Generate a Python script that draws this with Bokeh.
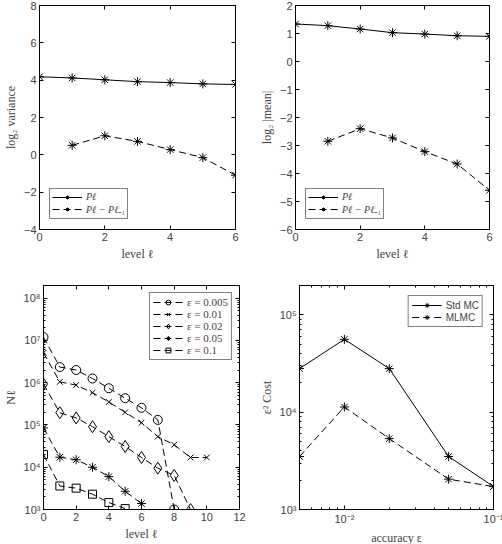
from bokeh.plotting import figure
from bokeh.layouts import column, row
from bokeh.models import (Legend, LegendItem, FixedTicker, LinearAxis, LogAxis,
                          Range1d, CustomJSTickFormatter)
from bokeh.embed import file_html
from bokeh.resources import INLINE

# ---------------- data ----------------
levels = [0, 1, 2, 3, 4, 5, 6]
levels_d = [1, 2, 3, 4, 5, 6]
var_P = [4.18, 4.12, 4.02, 3.92, 3.87, 3.80, 3.77]
var_dP = [0.51, 1.02, 0.72, 0.28, -0.15, -1.09]
mean_P = [1.34, 1.28, 1.16, 1.03, 0.98, 0.92, 0.90]
mean_dP = [-2.85, -2.40, -2.73, -3.22, -3.66, -4.60]

eps_labels = ["ε = 0.005", "ε = 0.01", "ε = 0.02", "ε = 0.05", "ε = 0.1"]
N_eps005 = [1.2e7, 2.35e6, 2.0e6, 1.26e6, 7.4e5, 4.3e5, 2.55e5, 1.32e5, 1.0e3]
N_eps01 = [5.1e6, 1.05e6, 8.8e5, 5.8e5, 3.5e5, 2.0e5, 1.13e5, 5.3e4, 3.4e4, 1.7e4, 1.7e4]
N_eps02 = [9.3e5, 1.95e5, 1.47e5, 9.1e4, 5.3e4, 3.1e4, 1.7e4, 9.5e3, 6.4e3, 1.0e3]
N_eps05 = [8.5e4, 1.73e4, 1.5e4, 1.0e4, 6.0e3, 2.7e3, 1.38e3]
N_eps1 = [2.0e4, 3.6e3, 3.2e3, 2.3e3, 1.46e3, 1.05e3]

accuracy = [0.005, 0.01, 0.02, 0.05, 0.1]
cost_std = [2.8e4, 5.6e4, 2.8e4, 3.5e3, 1.72e3]
cost_mlmc = [3.5e3, 1.13e4, 5.35e3, 2.05e3, 1.72e3]

# ---------------- styling helpers ----------------
SANS = "Liberation Sans"
SERIF = "Liberation Serif"
DASH = "7 4"

sup_fmt = CustomJSTickFormatter(code="""
const s = {'-':'\u207b','0':'\u2070','1':'\u00b9','2':'\u00b2','3':'\u00b3','4':'\u2074',
           '5':'\u2075','6':'\u2076','7':'\u2077','8':'\u2078','9':'\u2079'};
const e = String(Math.round(Math.log10(tick)));
let out = '10';
for (const c of e) { out += s[c]; }
return out;
""")


def make_fig(xr, yr, top, bottom, xlog=False, ylog=False, left=39, right=10, fw=196):
    p = figure(frame_width=fw, frame_height=224,
               min_border_left=left, min_border_right=right,
               min_border_top=top, min_border_bottom=bottom,
               x_range=xr, y_range=yr,
               x_axis_type="log" if xlog else "linear",
               y_axis_type="log" if ylog else "linear",
               output_backend="svg", toolbar_location=None)
    p.grid.grid_line_color = None
    p.outline_line_color = "black"
    p.outline_line_width = 1
    p.background_fill_color = "white"
    p.border_fill_color = "white"
    return p


def style_axis(ax, minor=False):
    ax.major_tick_in = 4
    ax.major_tick_out = 0
    ax.minor_tick_in = 2 if minor else 0
    ax.minor_tick_out = 0
    if not minor:
        ax.minor_tick_line_color = None
    ax.axis_line_color = "black"
    ax.major_label_text_font = SANS
    ax.major_label_text_font_size = "11px"
    ax.major_label_standoff = 3
    ax.axis_label_text_font = SERIF
    ax.axis_label_text_font_style = "normal"
    ax.axis_label_text_font_size = "12px"
    ax.axis_label_standoff = 3


def box_axes(p, xticker, yticker, xlog=False, ylog=False, xminor=False, yminor=False):
    for loc, ticker, log, minor in (("above", xticker, xlog, xminor),
                                    ("right", yticker, ylog, yminor)):
        ax = LogAxis(ticker=ticker) if log else LinearAxis(ticker=ticker)
        style_axis(ax, minor)
        ax.formatter = CustomJSTickFormatter(code="return '';")
        ax.major_label_standoff = 0
        p.add_layout(ax, loc)


def make_legend(p, items, loc, font, size, margin, row_h=10, pad=3):
    leg = Legend(items=items, location=loc, margin=margin,
                 label_text_font=font, label_text_font_size=size,
                 glyph_width=30, glyph_height=row_h, label_height=row_h,
                 spacing=0, padding=pad, label_standoff=4,
                 label_text_line_height=1.0,
                 border_line_color="black", border_line_width=1,
                 background_fill_color="white", background_fill_alpha=1)
    p.add_layout(leg, "center")
    return leg


def star_series(p, x, y, dash=None):
    kw = {} if dash is None else {"line_dash": dash}
    l = p.line(x, y, line_color="black", line_width=1, **kw)
    s = p.scatter(x, y, marker="asterisk", size=9, line_color="black", line_width=1)
    return [l, s]


def log_ticker(lo, hi, top):
    major = [10.0 ** d for d in range(lo, hi + 1)]
    minor = [k * 10.0 ** d for d in range(lo, hi + 1) for k in range(2, 10)]
    minor = [m for m in minor if m <= top]
    return FixedTicker(ticks=major, minor_ticks=minor)


# ---------------- panel 1 ----------------
p1 = make_fig(Range1d(0, 6), Range1d(-4, 8), top=5, bottom=46)
p1.xaxis.ticker = FixedTicker(ticks=[0, 2, 4, 6])
p1.yaxis.ticker = FixedTicker(ticks=[-4, -2, 0, 2, 4, 6, 8])
style_axis(p1.xaxis[0]); style_axis(p1.yaxis[0])
p1.xaxis.axis_label = "level ℓ"
p1.yaxis.axis_label = "log₂ variance"
box_axes(p1, FixedTicker(ticks=[0, 2, 4, 6]), FixedTicker(ticks=[-4, -2, 0, 2, 4, 6, 8]))
r1 = star_series(p1, levels, var_P)
r2 = star_series(p1, levels_d, var_dP, DASH)
leg = make_legend(p1, [LegendItem(label="Pℓ", renderers=r1),
                       LegendItem(label="Pℓ − Pℓ₋₁", renderers=r2)],
                  (10, 10), SERIF, "10px", 0, row_h=10, pad=2)
leg.label_text_font_style = "italic"

# ---------------- panel 2 ----------------
p2 = make_fig(Range1d(0, 6), Range1d(-6, 2), top=5, bottom=46, left=50, right=13, fw=194)
p2.xaxis.ticker = FixedTicker(ticks=[0, 2, 4, 6])
p2.yaxis.ticker = FixedTicker(ticks=[-6, -5, -4, -3, -2, -1, 0, 1, 2])
style_axis(p2.xaxis[0]); style_axis(p2.yaxis[0])
p2.xaxis.axis_label = "level ℓ"
p2.yaxis.axis_label = "log₂ |mean|"
box_axes(p2, FixedTicker(ticks=[0, 2, 4, 6]), FixedTicker(ticks=[-6, -5, -4, -3, -2, -1, 0, 1, 2]))
r1 = star_series(p2, levels, mean_P)
r2 = star_series(p2, levels_d, mean_dP, DASH)
leg = make_legend(p2, [LegendItem(label="Pℓ", renderers=r1),
                       LegendItem(label="Pℓ − Pℓ₋₁", renderers=r2)],
                  (10, 10), SERIF, "10px", 0, row_h=10, pad=2)
leg.label_text_font_style = "italic"

# ---------------- panel 3 ----------------
p3 = make_fig(Range1d(0, 12), Range1d(1e3, 2e8), top=10, bottom=35, ylog=True)
p3.xaxis.ticker = FixedTicker(ticks=[0, 2, 4, 6, 8, 10, 12])
p3.yaxis.ticker = log_ticker(3, 8, 2e8)
p3.yaxis.formatter = sup_fmt
style_axis(p3.xaxis[0]); style_axis(p3.yaxis[0], minor=True)
p3.xaxis.axis_label = "level ℓ"
p3.yaxis.axis_label = "Nℓ"
box_axes(p3, FixedTicker(ticks=[0, 2, 4, 6, 8, 10, 12]), log_ticker(3, 8, 2e8),
         ylog=True, yminor=True)

series3 = [(N_eps005, "circle", 9), (N_eps01, "x", 8), (N_eps02, "diamond", 12),
           (N_eps05, "asterisk", 9), (N_eps1, "square", 8)]
items3 = []
for (vals, mk, sz), lab in zip(series3, eps_labels):
    xs = list(range(len(vals)))
    l = p3.line(xs, vals, line_color="black", line_width=1, line_dash=DASH)
    s = p3.scatter(xs, vals, marker=mk, size=sz, line_color="black", line_width=1,
                   fill_alpha=0)
    items3.append(LegendItem(label=lab, renderers=[l, s]))
make_legend(p3, items3, "top_right", SERIF, "11px", 7, row_h=12)

# ---------------- panel 4 ----------------
p4 = make_fig(Range1d(0.005, 0.1), Range1d(1e3, 2e5), top=10, bottom=35,
              xlog=True, ylog=True, left=50, right=13, fw=194)
x_major = [0.01, 0.1]
x_minor = [0.005, 0.006, 0.007, 0.008, 0.009, 0.02, 0.03, 0.04, 0.05, 0.06, 0.07, 0.08, 0.09]
p4.xaxis.ticker = FixedTicker(ticks=x_major, minor_ticks=x_minor)
p4.yaxis.ticker = log_ticker(3, 5, 2e5)
p4.xaxis.formatter = sup_fmt
p4.yaxis.formatter = sup_fmt
style_axis(p4.xaxis[0], minor=True); style_axis(p4.yaxis[0], minor=True)
p4.xaxis.axis_label = "accuracy ε"
p4.yaxis.axis_label = "ε² Cost"
box_axes(p4, FixedTicker(ticks=x_major, minor_ticks=x_minor),
         log_ticker(3, 5, 2e5), xlog=True, ylog=True, xminor=True, yminor=True)
r1 = star_series(p4, accuracy, cost_std)
r2 = star_series(p4, accuracy, cost_mlmc, DASH)
make_legend(p4, [LegendItem(label="Std MC", renderers=r1),
                 LegendItem(label="MLMC", renderers=r2)],
            "top_right", SANS, "10px", 10, row_h=12)

layout = column(row(p1, p2), row(p3, p4))
open("out.html", "w").write(file_html(layout, INLINE))
